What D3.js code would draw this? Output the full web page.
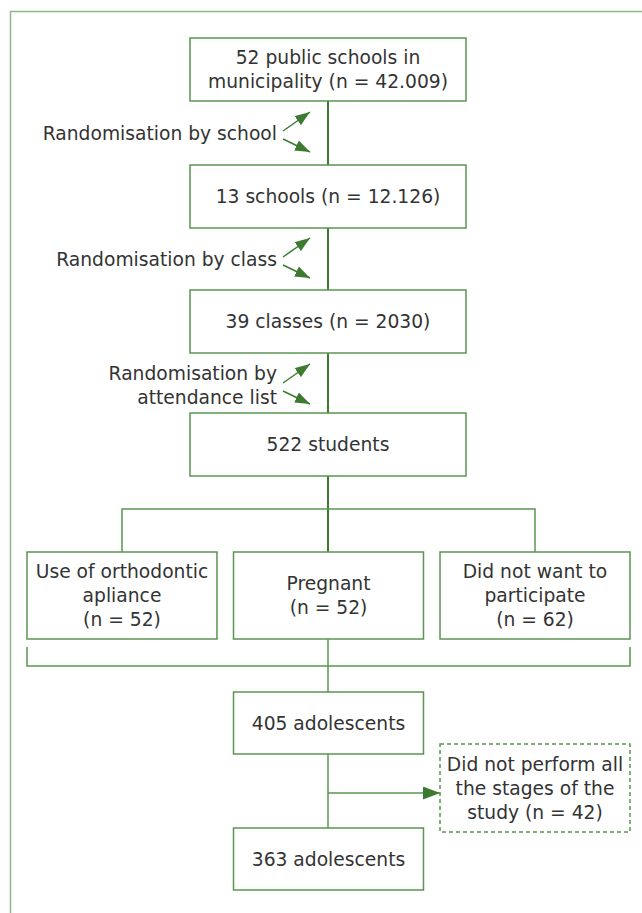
<!DOCTYPE html>
<html>
<head>
<meta charset="utf-8">
<script src="https://cdn.jsdelivr.net/npm/d3@7"></script>
<style>
  body { margin: 0; background: #fff; }
  svg text { font-family: "DejaVu Sans", sans-serif; font-size: 18.7px; fill: #333; }
</style>
</head>
<body>
<script>
// flowchart content
const mainSteps = ["52 public schools in\nmunicipality (n = 42.009)", "13 schools (n = 12.126)", "39 classes (n = 2030)", "522 students"];
const randomisations = ["Randomisation by school", "Randomisation by class", "Randomisation by\nattendance list"];
const exclusions = ["Use of orthodontic\napliance\n(n = 52)", "Pregnant\n(n = 52)", "Did not want to\nparticipate\n(n = 62)"];
const finalSteps = ["405 adolescents", "363 adolescents"];
const lossLabel = "Did not perform all\nthe stages of the\nstudy (n = 42)";

const width = 642, height = 913;
const dark = "#3b7a2f", mid = "#5a9650", light = "#8dbb86";
const cx = 328, lineH = 24;

const svg = d3.select("body").append("svg")
  .attr("width", width)
  .attr("height", height);

const defs = svg.append("defs");
function marker(id, w, h) {
  defs.append("marker")
    .attr("id", id)
    .attr("viewBox", `0 0 ${w} ${h}`)
    .attr("refX", w).attr("refY", h / 2)
    .attr("markerWidth", w).attr("markerHeight", h)
    .attr("markerUnits", "userSpaceOnUse")
    .attr("orient", "auto")
    .append("path")
    .attr("d", `M0,0 L${w},${h / 2} L0,${h} Z`)
    .attr("fill", dark);
}
marker("head", 15, 11);
marker("headBig", 17, 13);

// outer frame (only top and left edge visible)
svg.append("path")
  .attr("d", `M10.5,${height} V11.5 H${width}`)
  .attr("fill", "none").attr("stroke", light).attr("stroke-width", 1.5);

function label(g, text, x, y, anchor) {
  const lines = text.split("\n");
  const t = g.append("text")
    .attr("text-anchor", anchor || "middle");
  lines.forEach((l, i) => {
    t.append("tspan")
      .attr("x", x)
      .attr("y", y + (i - (lines.length - 1) / 2) * lineH)
      .attr("dominant-baseline", "central")
      .text(l);
  });
}

function box(x, y, w, h, text, dashed) {
  const g = svg.append("g");
  g.append("rect")
    .attr("x", x).attr("y", y).attr("width", w).attr("height", h)
    .attr("fill", "#fff").attr("stroke", mid).attr("stroke-width", 1.5)
    .attr("stroke-dasharray", dashed ? "4,3" : null);
  label(g, text, x + w / 2, y + h / 2);
}

function line(pts, sw, color) {
  return svg.append("path")
    .attr("d", d3.line()(pts))
    .attr("fill", "none")
    .attr("stroke", color || dark)
    .attr("stroke-width", sw || 2);
}

// main column
const mainW = 276, mainH = 63;
const mainTop = [38, 165, 290, 413];

mainSteps.forEach((s, i) => {
  if (i < mainSteps.length - 1) {
    line([[cx, mainTop[i] + mainH], [cx, mainTop[i + 1]]]);
    const m = (mainTop[i] + mainH + mainTop[i + 1]) / 2 + (i === 2 ? 2 : 0);
    label(svg, randomisations[i], 277, m, "end");
    line([[283, m - 2], [310, m - 21]], 1.5).attr("marker-end", "url(#head)");
    line([[283, m + 6], [310, m + 19]], 1.5).attr("marker-end", "url(#head)");
  }
});

// branch to exclusion boxes
const exTop = 552, exH = 87, branchY = 509;
const x = d3.scaleBand().domain(d3.range(exclusions.length)).range([27, 630]).paddingInner(0.08);
line([[cx, mainTop[3] + mainH], [cx, exTop]]);
line([[x(0) + x.bandwidth() / 2, exTop], [x(0) + x.bandwidth() / 2, branchY], [x(2) + x.bandwidth() / 2, branchY], [x(2) + x.bandwidth() / 2, exTop]], 1.5, mid);

// bracket under exclusions
const bracketY = 666;
line([[x(0), 647], [x(0), bracketY], [x(2) + x.bandwidth(), bracketY], [x(2) + x.bandwidth(), 647]], 1.5, mid);

// final boxes
const finTop = [692, 828], finH = 62;
line([[cx, exTop + exH], [cx, finTop[0]]], 1.5, mid);
line([[cx, finTop[0] + finH], [cx, finTop[1]]], 1.5, mid);

// loss arrow
const lossY = 793;
line([[cx, lossY], [x(2), lossY]], 1.5, mid).attr("marker-end", "url(#headBig)");

mainSteps.forEach((s, i) => box(cx - mainW / 2, mainTop[i], mainW, mainH, s));
exclusions.forEach((s, i) => box(x(i), exTop, x.bandwidth(), exH, s));
finalSteps.forEach((s, i) => box(x(1), finTop[i], x.bandwidth(), finH, s));
box(x(2), 744, x.bandwidth(), 88, lossLabel, true);
</script>
</body>
</html>
